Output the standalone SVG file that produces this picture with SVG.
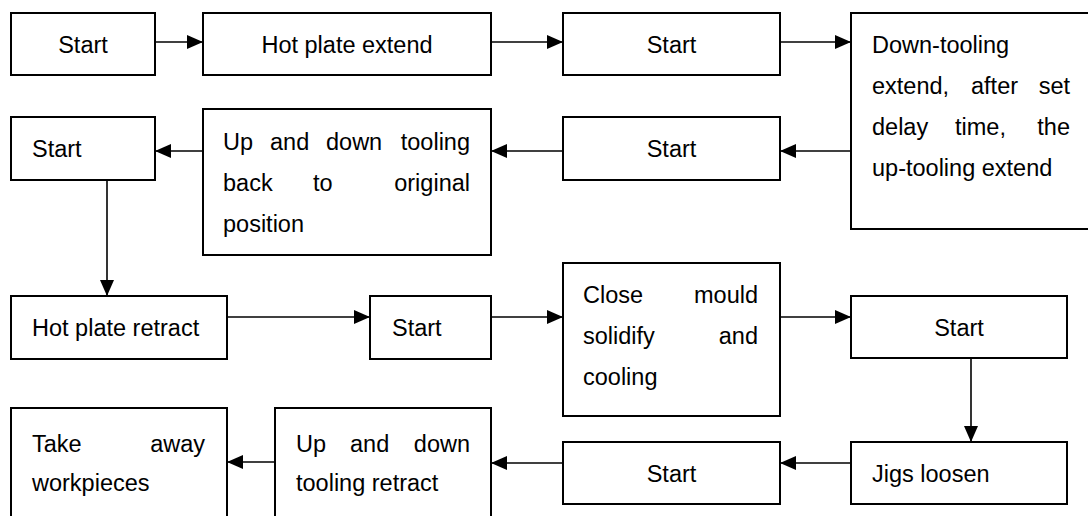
<svg xmlns="http://www.w3.org/2000/svg" width="1088" height="516" viewBox="0 0 1088 516">
<style>
.box{fill:#fff;stroke:#000;stroke-width:2}
.t{font-family:"Liberation Sans",Arial,sans-serif;font-size:23.5px;fill:#000}
.c{text-anchor:middle}
.e{text-anchor:end}
.ln{fill:none;stroke:#000;stroke-width:1.6}
</style>
<defs>
<marker id="ah" markerUnits="userSpaceOnUse" markerWidth="16" markerHeight="14" refX="16" refY="7" orient="auto">
<path d="M0,0 L16,7 L0,14 z" fill="#000"/>
</marker>
</defs>
<rect width="1088" height="516" fill="#fff"/>
<g id="connectors">
<line class="ln" x1="155" y1="42" x2="203" y2="42" marker-end="url(#ah)"/>
<line class="ln" x1="491" y1="42" x2="563" y2="42" marker-end="url(#ah)"/>
<line class="ln" x1="780" y1="42" x2="851" y2="42" marker-end="url(#ah)"/>
<line class="ln" x1="851" y1="151" x2="780" y2="151" marker-end="url(#ah)"/>
<line class="ln" x1="563" y1="151" x2="491" y2="151" marker-end="url(#ah)"/>
<line class="ln" x1="203" y1="151" x2="155" y2="151" marker-end="url(#ah)"/>
<line class="ln" x1="107" y1="180" x2="107" y2="296" marker-end="url(#ah)"/>
<line class="ln" x1="227" y1="317" x2="370" y2="317" marker-end="url(#ah)"/>
<line class="ln" x1="491" y1="317" x2="563" y2="317" marker-end="url(#ah)"/>
<line class="ln" x1="780" y1="317" x2="851" y2="317" marker-end="url(#ah)"/>
<line class="ln" x1="971" y1="358" x2="971" y2="442" marker-end="url(#ah)"/>
<line class="ln" x1="851" y1="463" x2="780" y2="463" marker-end="url(#ah)"/>
<line class="ln" x1="563" y1="463" x2="491" y2="463" marker-end="url(#ah)"/>
<line class="ln" x1="275" y1="462" x2="227" y2="462" marker-end="url(#ah)"/>
</g>
<g id="n1"><rect class="box" x="11" y="13" width="144" height="62"/><text class="t c" x="83" y="53">Start</text></g>
<g id="n2"><rect class="box" x="203" y="13" width="288" height="62"/><text class="t c" x="347" y="53">Hot plate extend</text></g>
<g id="n3"><rect class="box" x="563" y="13" width="217" height="62"/><text class="t c" x="671.5" y="53">Start</text></g>
<g id="n4"><rect class="box" x="851" y="13" width="260" height="216"/>
<text class="t" x="872" y="53">Down-tooling</text>
<text class="t" x="872" y="94">extend,</text><text class="t" x="971" y="94">after</text><text class="t e" x="1070" y="94">set</text>
<text class="t" x="872" y="135">delay</text><text class="t" x="955" y="135">time,</text><text class="t e" x="1070" y="135">the</text>
<text class="t" x="872" y="176">up-tooling extend</text></g>
<g id="n5"><rect class="box" x="563" y="117" width="217" height="63"/><text class="t c" x="671.5" y="157">Start</text></g>
<g id="n6"><rect class="box" x="203" y="109" width="288" height="146"/>
<text class="t" x="223" y="149.5">Up</text><text class="t" x="270" y="149.5">and</text><text class="t" x="326" y="149.5">down</text><text class="t e" x="470" y="149.5">tooling</text>
<text class="t" x="223" y="190.5">back</text><text class="t" x="313" y="190.5">to</text><text class="t e" x="470" y="190.5">original</text>
<text class="t" x="223" y="231.5">position</text></g>
<g id="n7"><rect class="box" x="11" y="117" width="144" height="63"/><text class="t" x="32" y="157">Start</text></g>
<g id="n8"><rect class="box" x="11" y="296" width="216" height="63"/><text class="t" x="32" y="336">Hot plate retract</text></g>
<g id="n9"><rect class="box" x="370" y="296" width="121" height="63"/><text class="t" x="392" y="336">Start</text></g>
<g id="n10"><rect class="box" x="563" y="263" width="217" height="153"/>
<text class="t" x="583" y="302.5">Close</text><text class="t e" x="758" y="302.5">mould</text>
<text class="t" x="583" y="343.5">solidify</text><text class="t e" x="758" y="343.5">and</text>
<text class="t" x="583" y="384.5">cooling</text></g>
<g id="n11"><rect class="box" x="851" y="296" width="216" height="62"/><text class="t c" x="959" y="336">Start</text></g>
<g id="n12"><rect class="box" x="851" y="442" width="216" height="62"/><text class="t" x="872" y="481.5">Jigs loosen</text></g>
<g id="n13"><rect class="box" x="563" y="442" width="217" height="62"/><text class="t c" x="671.5" y="481.5">Start</text></g>
<g id="n14"><rect class="box" x="275" y="408" width="216" height="130"/>
<text class="t" x="296" y="451.5">Up</text><text class="t" x="350" y="451.5">and</text><text class="t e" x="470" y="451.5">down</text>
<text class="t" x="296" y="491">tooling retract</text></g>
<g id="n15"><rect class="box" x="11" y="408" width="216" height="130"/>
<text class="t" x="32" y="451.5">Take</text><text class="t e" x="205" y="451.5">away</text>
<text class="t" x="32" y="491">workpieces</text></g>
</svg>
